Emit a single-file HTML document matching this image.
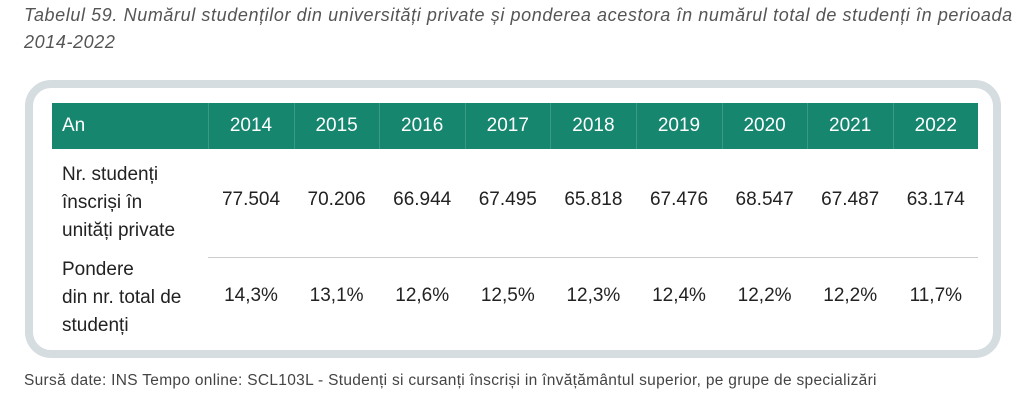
<!DOCTYPE html>
<html><head><meta charset="utf-8"><style>
body{margin:0;width:1024px;height:403px;background:#fff;font-family:"Liberation Sans",sans-serif;position:relative;overflow:hidden}
.t{position:absolute;left:24px;top:2px;width:1000px;font-style:italic;font-size:18px;letter-spacing:0.6px;line-height:27px;color:#555;white-space:nowrap}
.box{position:absolute;left:25px;top:80px;width:960px;height:262px;border:8px solid #d5dde0;border-radius:26px}
.hd{position:absolute;left:52px;top:103px;width:926px;height:46px;background:#16866f}
.c{position:absolute;font-size:19px;color:#222;text-align:center;width:86px}
.h{color:#fff;top:115px}
.vl{position:absolute;top:103px;height:46px;width:1px;background:#3a9a86}
.lb{position:absolute;left:62px;font-size:19px;line-height:28px;color:#222}
.sep{position:absolute;left:208px;top:257px;width:770px;height:1px;background:#ccc}
.src{position:absolute;left:24px;top:372px;font-size:15.5px;letter-spacing:0.3px;color:#444;white-space:nowrap}
</style></head><body>
<div class="t">Tabelul 59. Numărul studenților din universități private și ponderea acestora în numărul total de studenți în perioada<br>2014-2022</div>
<div class="box"></div>
<div class="hd"></div>
<div class="c h" style="left:62px;text-align:left">An</div>
<div class="lb" style="top:161px">Nr. studenți<br>înscriși în<br>unități private</div>
<div class="lb" style="top:256px">Pondere<br>din nr. total de<br>studenți</div>
<div class="sep"></div>
<div class="src">Sursă date: INS Tempo online: SCL103L - Studenți si cursanți înscriși in învățământul superior, pe grupe de specializări</div>
<div id="cols"></div>
<script>
var y=["2014","2015","2016","2017","2018","2019","2020","2021","2022"],
a=["77.504","70.206","66.944","67.495","65.818","67.476","68.547","67.487","63.174"],
b=["14,3%","13,1%","12,6%","12,5%","12,3%","12,4%","12,2%","12,2%","11,7%"],h="";
for(var i=0;i<9;i++){var x=208+i*85.6;
h+='<div class="vl" style="left:'+x+'px"></div>';
h+='<div class="c h" style="left:'+x+'px">'+y[i]+'</div>';
h+='<div class="c" style="left:'+x+'px;top:189px">'+a[i]+'</div>';
h+='<div class="c" style="left:'+x+'px;top:285px">'+b[i]+'</div>';}
document.getElementById("cols").innerHTML=h;
</script>
</body></html>
